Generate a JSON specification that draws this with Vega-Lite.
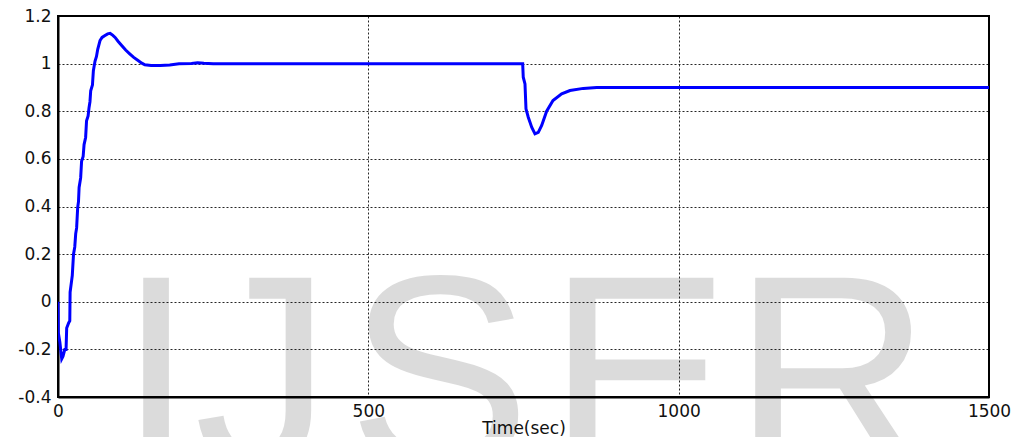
{
  "$schema": "https://vega.github.io/schema/vega-lite/v6.json",
  "width": 931,
  "height": 381,
  "autosize": {"type": "none"},
  "padding": {"left": 58, "top": 16, "right": 29, "bottom": 40},
  "background": "#ffffff",
  "view": {"stroke": "#000000", "strokeWidth": 2},
  "config": {
    "axis": {
      "labelFont": "DejaVu Sans",
      "labelFontSize": 17,
      "labelColor": "#111111",
      "titleFont": "DejaVu Sans",
      "titleFontSize": 17,
      "titleFontWeight": "normal",
      "titleColor": "#111111",
      "domainColor": "#000000",
      "domainWidth": 2,
      "ticks": false,
      "gridColor": "#000000",
      "gridDash": [2, 2],
      "gridWidth": 1,
      "gridOpacity": 0.85,
      "labelFlush": false,
      "labelOverlap": false
    }
  },
  "datasets": {
    "response": [
      {"t": 0, "v": 0},
      {"t": 0.5, "v": -0.13},
      {"t": 3, "v": -0.17},
      {"t": 6, "v": -0.24},
      {"t": 8, "v": -0.23},
      {"t": 11, "v": -0.2},
      {"t": 13, "v": -0.2},
      {"t": 14, "v": -0.11},
      {"t": 17, "v": -0.09},
      {"t": 19, "v": -0.08},
      {"t": 19.5, "v": 0.04},
      {"t": 22, "v": 0.09},
      {"t": 23, "v": 0.11},
      {"t": 25, "v": 0.2},
      {"t": 27, "v": 0.23},
      {"t": 28.5, "v": 0.285},
      {"t": 30, "v": 0.31},
      {"t": 31.7, "v": 0.395},
      {"t": 33, "v": 0.42},
      {"t": 34, "v": 0.48},
      {"t": 36.5, "v": 0.52},
      {"t": 38, "v": 0.59},
      {"t": 40.5, "v": 0.61},
      {"t": 42, "v": 0.66},
      {"t": 44.5, "v": 0.69},
      {"t": 46, "v": 0.76},
      {"t": 48.5, "v": 0.78},
      {"t": 50, "v": 0.815},
      {"t": 51.5, "v": 0.84},
      {"t": 52.7, "v": 0.886},
      {"t": 55.5, "v": 0.91},
      {"t": 57, "v": 0.97},
      {"t": 59.6, "v": 1.01},
      {"t": 62, "v": 1.03},
      {"t": 64, "v": 1.06},
      {"t": 67.7, "v": 1.097},
      {"t": 71, "v": 1.11},
      {"t": 75.7, "v": 1.118},
      {"t": 80, "v": 1.125},
      {"t": 84, "v": 1.127},
      {"t": 88, "v": 1.12},
      {"t": 92, "v": 1.11},
      {"t": 97, "v": 1.093},
      {"t": 102.6, "v": 1.076},
      {"t": 109, "v": 1.057},
      {"t": 116, "v": 1.04},
      {"t": 122, "v": 1.026},
      {"t": 129, "v": 1.013},
      {"t": 135, "v": 1.002},
      {"t": 140, "v": 0.995},
      {"t": 150, "v": 0.992},
      {"t": 165, "v": 0.992},
      {"t": 180, "v": 0.994},
      {"t": 195, "v": 0.999},
      {"t": 215, "v": 1.001},
      {"t": 225, "v": 1.004},
      {"t": 235, "v": 1.002},
      {"t": 250, "v": 1.0},
      {"t": 748.7, "v": 1.0},
      {"t": 749.6, "v": 0.943},
      {"t": 752.4, "v": 0.915},
      {"t": 754, "v": 0.81},
      {"t": 757.7, "v": 0.775},
      {"t": 763.2, "v": 0.733},
      {"t": 768.5, "v": 0.705},
      {"t": 773.8, "v": 0.711},
      {"t": 779.3, "v": 0.74},
      {"t": 787.3, "v": 0.8},
      {"t": 797.5, "v": 0.845},
      {"t": 811.5, "v": 0.873},
      {"t": 824.9, "v": 0.887},
      {"t": 846.3, "v": 0.896},
      {"t": 867.9, "v": 0.9},
      {"t": 1500, "v": 0.9}
    ],
    "mark": [
      {"letter": "I", "t": 158, "v": -0.694},
      {"letter": "J", "t": 330, "v": -0.694},
      {"letter": "S", "t": 614, "v": -0.694},
      {"letter": "E", "t": 936, "v": -0.694},
      {"letter": "R", "t": 1247, "v": -0.694}
    ]
  },
  "layer": [
    {
      "data": {"name": "response"},
      "mark": {"type": "line", "color": "#0000ff", "strokeWidth": 3, "strokeJoin": "miter", "clip": true},
      "encoding": {
        "x": {
          "field": "t",
          "type": "quantitative",
          "scale": {"domain": [0, 1500], "nice": false, "zero": false},
          "axis": {
            "values": [0, 500, 1000, 1500],
            "format": "d",
            "title": "Time(sec)",
            "labelPadding": 6,
            "titlePadding": 1,
            "grid": true
          }
        },
        "y": {
          "field": "v",
          "type": "quantitative",
          "scale": {"domain": [-0.4, 1.2], "nice": false, "zero": false},
          "axis": {
            "values": [-0.4, -0.2, 0, 0.2, 0.4, 0.6, 0.8, 1, 1.2],
            "title": null,
            "labelPadding": 7,
            "labelExpr": "datum.value < 0 ? '-' + format(-datum.value, '.1~f') : format(datum.value, '.1~f')",
            "grid": true
          }
        }
      }
    },
    {
      "data": {"name": "mark"},
      "mark": {
        "type": "text",
        "font": "Liberation Sans",
        "fontSize": 275,
        "align": "center",
        "baseline": "alphabetic",
        "color": "#000000",
        "opacity": 0.137
      },
      "encoding": {
        "x": {"field": "t", "type": "quantitative"},
        "y": {"field": "v", "type": "quantitative"},
        "text": {"field": "letter"}
      }
    }
  ]
}
